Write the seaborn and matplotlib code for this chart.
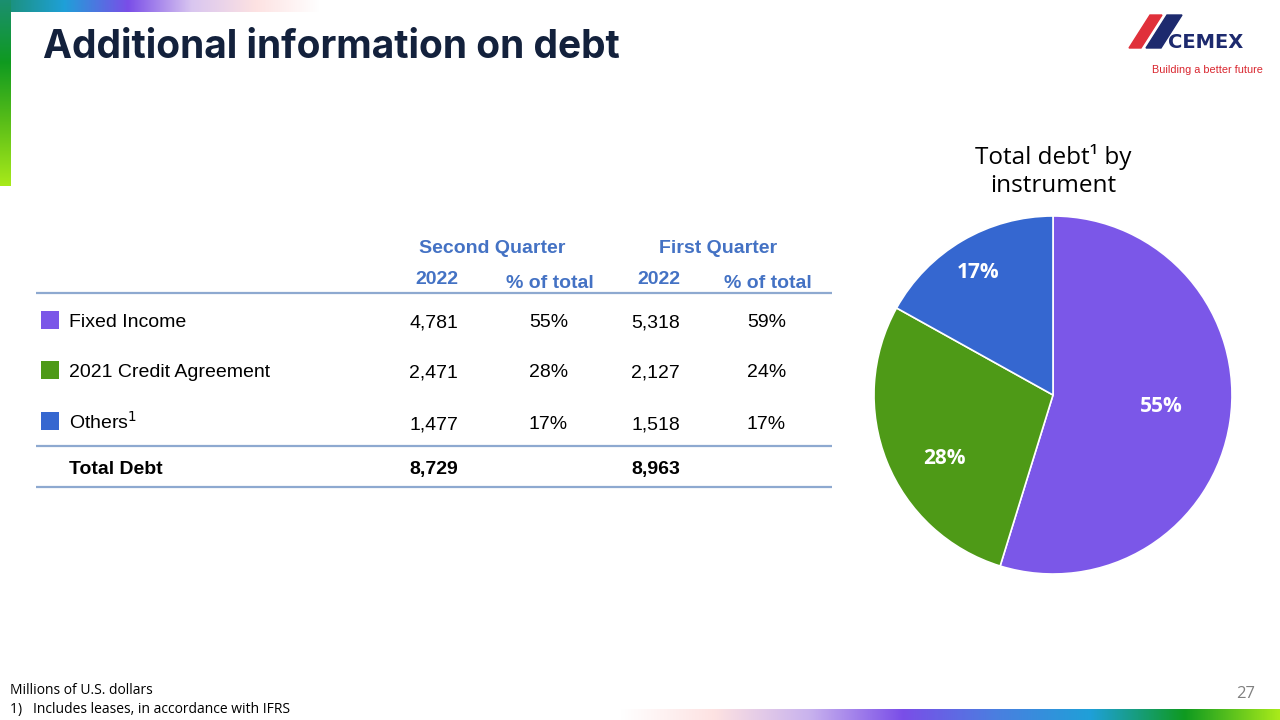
import numpy as np
import matplotlib
matplotlib.use("Agg")
import matplotlib.pyplot as plt
import seaborn as sns
from matplotlib.colors import LinearSegmentedColormap
from matplotlib.patches import Polygon

# --- data ---
instruments = ["Fixed Income", "2021 Credit Agreement", "Others"]
q2_2022 = [4781, 2471, 1477]
q2_pct = [55, 28, 17]
q1_2022 = [5318, 2127, 1518]
q1_pct = [59, 24, 17]
totals = [8729, 8963]
inst_colors = ["#7b57e8", "#4e9a17", "#3567d0"]

sns.set_theme(style="white")
plt.rcParams["font.family"] = ["Liberation Sans", "DejaVu Sans"]
plt.rcParams["text.color"] = "black"

fig = plt.figure(figsize=(12.8, 7.2), dpi=100)
fig.patch.set_facecolor("white")

# background axes in pixel coordinates
ax = fig.add_axes([0, 0, 1, 1])
ax.set_xlim(0, 1280)
ax.set_ylim(720, 0)

# gradient decorations
top_cmap = LinearSegmentedColormap.from_list(
    "top", ["#1b8f70", "#1fa0d8", "#7a4ee8", "#d9c6f0", "#fde2e2", "#ffffff"])
left_cmap = LinearSegmentedColormap.from_list(
    "left", ["#1b8f70", "#0f9a20", "#5cbf18", "#a8ea1a"])
bot_cmap = LinearSegmentedColormap.from_list(
    "bot", ["#ffffff", "#fde2e2", "#c9b3ee", "#7a4ee8", "#4a7fe0", "#1fa0d8", "#0f9a20", "#a8ea1a"])
grad = np.linspace(0, 1, 256)
ax.imshow(grad[None, :], cmap=top_cmap, extent=(0, 320, 12, 0), aspect="auto", zorder=1)
ax.imshow(grad[:, None], cmap=left_cmap, extent=(0, 11, 186, 0), aspect="auto", zorder=2)
ax.imshow(grad[None, :], cmap=bot_cmap, extent=(620, 1280, 720, 709), aspect="auto", zorder=1)

# title
ax.text(43, 58, "Additional information on debt", fontsize=28, fontweight="bold",
        color="#13213c", family=["Inter", "DejaVu Sans"], va="baseline", ha="left")

# logo
ax.add_patch(Polygon([(1129, 48), (1141, 48), (1162, 15), (1150, 15)], color="#e0303a"))
ax.add_patch(Polygon([(1146, 48), (1161, 48), (1182, 15), (1167, 15)], color="#1d2a6e"))
ax.text(1168, 48, "CEMEX", fontsize=14, fontweight="bold",
        color="#1d2a6e", family=["DejaVu Sans"], va="baseline", ha="left")
ax.text(1263, 70, "Building a better future", fontsize=7.8, color="#d9262f",
        va="center", ha="right")

# table
head_color = "#4472c4"
line_color = "#8ea9d0"
row_y = [327, 377, 429]
total_y = 474
col_x = [458, 568, 680, 786]
fs = 14

ax.text(492, 253, "Second Quarter", fontsize=fs, fontweight="bold", color=head_color,
        ha="center", va="baseline")
ax.text(718, 253, "First Quarter", fontsize=fs, fontweight="bold", color=head_color,
        ha="center", va="baseline")
ax.text(col_x[0], 284, "2022", fontsize=fs, fontweight="bold", color=head_color,
        ha="right", va="baseline")
ax.text(550, 288, "% of total", fontsize=fs, fontweight="bold", color=head_color,
        ha="center", va="baseline")
ax.text(col_x[2], 284, "2022", fontsize=fs, fontweight="bold", color=head_color,
        ha="right", va="baseline")
ax.text(768, 288, "% of total", fontsize=fs, fontweight="bold", color=head_color,
        ha="center", va="baseline")

for y in [293, 446, 487]:
    ax.plot([36, 832], [y, y], color=line_color, lw=1.6, solid_capstyle="butt")

sq_y = [320, 370, 421]
sns.scatterplot(x=[50] * len(instruments), y=sq_y, hue=instruments,
                palette=inst_colors, marker="s", s=150, linewidth=0,
                legend=False, ax=ax, zorder=5)

labels = [instruments[0], instruments[1], "Others$^{1}$"]
for i, y in enumerate(row_y):
    ax.text(69, y, labels[i], fontsize=fs, ha="left", va="baseline")
    ax.text(col_x[0], y, f"{q2_2022[i]:,}", fontsize=fs, ha="right", va="baseline")
    ax.text(col_x[1], y, f"{q2_pct[i]}%", fontsize=fs, ha="right", va="baseline")
    ax.text(col_x[2], y, f"{q1_2022[i]:,}", fontsize=fs, ha="right", va="baseline")
    ax.text(col_x[3], y, f"{q1_pct[i]}%", fontsize=fs, ha="right", va="baseline")

ax.text(69, total_y, "Total Debt", fontsize=fs, fontweight="bold", ha="left", va="baseline")
ax.text(col_x[0], total_y, f"{totals[0]:,}", fontsize=fs, fontweight="bold", ha="right", va="baseline")
ax.text(col_x[2], total_y, f"{totals[1]:,}", fontsize=fs, fontweight="bold", ha="right", va="baseline")

# footnotes
foot_font = ["Open Sans", "DejaVu Sans"]
ax.text(10, 690, "Millions of U.S. dollars", fontsize=10, family=foot_font, va="center")
ax.text(10, 709, "1)   Includes leases, in accordance with IFRS", fontsize=10,
        family=foot_font, va="center")
ax.text(1255, 694, "27", fontsize=12, color="#808080", family=foot_font, ha="right", va="center")

# pie title
ax.text(1053, 171, "Total debt\u00b9 by\ninstrument", fontsize=17.5, family=foot_font,
        ha="center", va="center", linespacing=1.25)
ax.axis("off")

# pie chart
cx, cy, r = 1053, 395, 179
pax = fig.add_axes([(cx - r) / 1280, (720 - cy - r) / 720, 2 * r / 1280, 2 * r / 720])
wedges, _ = pax.pie(q2_2022, colors=inst_colors, startangle=90, counterclock=False,
                    wedgeprops=dict(edgecolor="white", linewidth=1.2))
# label placement: radial distance and angular shift from wedge middle
label_dist = [0.61, 0.705, 0.805]
label_shift = [2.3, 8.6, 1.0]
for w, pct, d, sh in zip(wedges, q2_pct, label_dist, label_shift):
    mid = np.deg2rad((w.theta1 + w.theta2) / 2 + sh)
    pax.text(d * np.cos(mid), d * np.sin(mid), f"{pct}%", fontsize=15, fontweight="bold",
             color="white", family=foot_font, ha="center", va="center")
pax.set_xlim(-1, 1)
pax.set_ylim(-1, 1)
pax.axis("off")

fig.savefig("out.png", dpi=100)
